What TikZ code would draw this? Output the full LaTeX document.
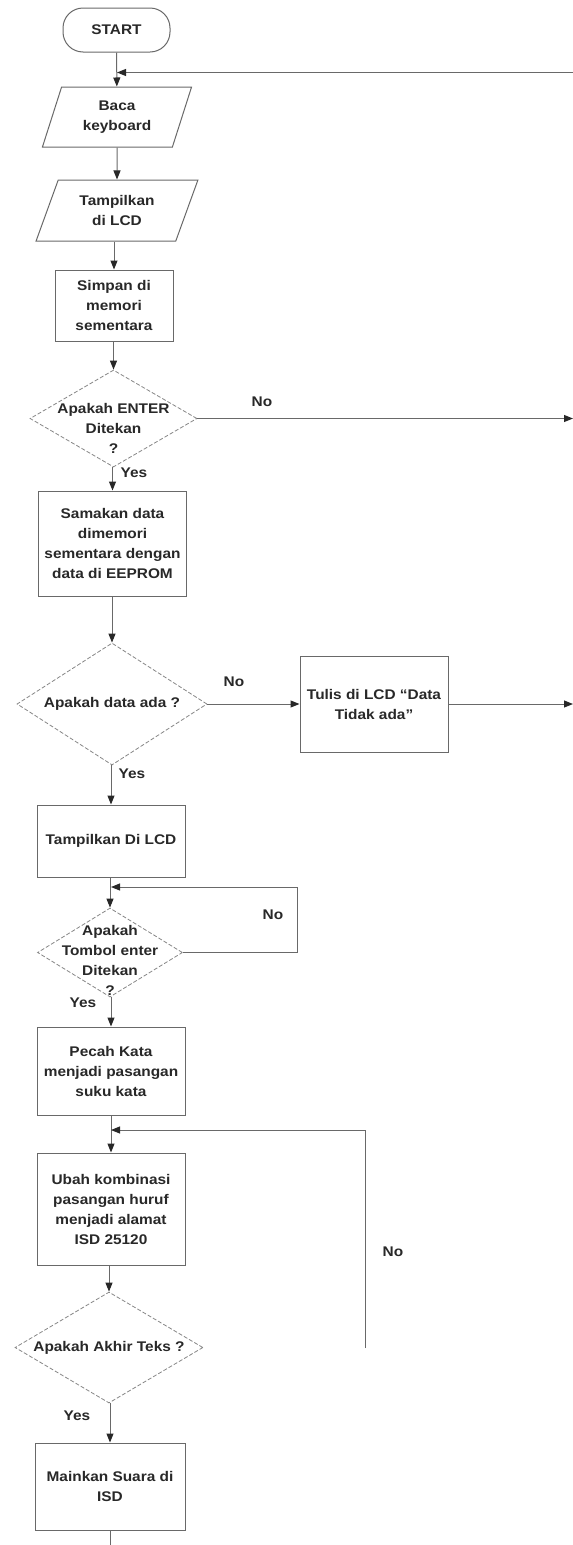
\documentclass[tikz,border=0pt]{standalone}
\usepackage{fontspec}
\setmainfont{Liberation Sans}[FakeStretch=1.1]
\usepackage{tikz}
\usetikzlibrary{shapes.geometric, arrows.meta, positioning, calc}
\definecolor{scangray}{RGB}{105,105,105}
\definecolor{inkgray}{RGB}{40,40,40}
\newcommand{\lbl}{\fontsize{14}{20}\selectfont\bfseries}

\tikzset{
  base/.style={font=\lbl, text=inkgray, align=center, inner sep=0pt},
  terminal/.style={base, draw=scangray, line width=1pt, rectangle, rounded corners=20pt},
  io/.style={base, draw=scangray, line width=1pt, trapezium, trapezium stretches=true,
    trapezium left angle=70, trapezium right angle=110},
  process/.style={base, draw=scangray, line width=1pt, rectangle},
  decision/.style={draw=scangray!80, line width=0.8pt, dash pattern=on 4pt off 2pt, diamond, inner sep=0pt},
  tag/.style={base},
  arr/.style={draw=scangray, line width=1pt, -{Triangle[length=9pt,width=7pt,color=inkgray]}},
  line/.style={draw=scangray, line width=1pt}
}

\begin{document}
\begin{tikzpicture}[x=1pt, y=-1pt]
    \fill[white] (0,0) rectangle (573,1545);
    \useasboundingbox (0,0) rectangle (573,1545);

    % Main column
    \node[terminal, minimum width=107pt, minimum height=44pt] (start) at (116.5,30) {START};
    \node[io, minimum width=150pt, minimum height=60pt] (read) at (117,117) {Baca\\keyboard};
    \node[io, trapezium left angle=65, trapezium right angle=115,
          minimum width=162pt, minimum height=61pt] (show) at (117,210.5) {Tampilkan\\di LCD};
    \node[process, minimum width=118pt, minimum height=71pt] (save) at (114,305.5) {Simpan di\\memori\\sementara};
    \node[decision, minimum width=167pt, minimum height=97pt] (ask) at (113.5,418.5) {};
    \node[tag] (asktxt) at (113.5,428) {Apakah ENTER\\Ditekan\\?};
    \node[process, minimum width=148pt, minimum height=105pt] (cmp) at (112.5,543.5) {Samakan data\\dimemori\\sementara dengan\\data di EEPROM};
    \node[decision, minimum width=190pt, minimum height=122pt] (found) at (112,704) {};
    \node[tag] (foundtxt) at (112,704) {Apakah data ada ?};
    \node[process, minimum width=148pt, minimum height=96pt] (msg) at (374,704) {Tulis di LCD “Data\\Tidak ada”};
    \node[process, minimum width=148pt, minimum height=72pt] (disp) at (111,841) {Tampilkan Di LCD};
    \node[decision, minimum width=145pt, minimum height=89pt] (enter) at (110,952.5) {};
    \node[tag] (entertxt) at (110,960) {Apakah\\Tombol enter\\Ditekan\\?};
    \node[process, minimum width=148pt, minimum height=88pt] (split) at (111,1071) {Pecah Kata\\menjadi pasangan\\suku kata};
    \node[process, minimum width=148pt, minimum height=112pt] (conv) at (111,1209) {Ubah kombinasi\\pasangan huruf\\menjadi alamat\\ISD 25120};
    \node[decision, minimum width=188pt, minimum height=111pt] (last) at (109,1347.5) {};
    \node[tag] (lasttxt) at (109,1347.5) {Apakah Akhir Teks ?};
    \node[process, minimum width=150pt, minimum height=87pt] (play) at (110,1486.5) {Mainkan Suara di\\ISD};

    % Free ends at the page edge
    \coordinate (backin) at (573,72.5);
    \coordinate (noout1) at (573,418.5);
    \coordinate (noout2) at (573,704);
    \coordinate (loop1) at (297,887);
    \coordinate (loop2top) at (365,1130);
    \coordinate (loop2end) at (365,1348);
    \coordinate (bottomout) at (110,1545);

    % Connectors
    \draw[arr] (start) -- (read);
    \draw[arr] (backin) -- (backin -| read);
    \draw[arr] (read) -- (show);
    \draw[arr] (show.south -| save) -- (save);
    \draw[arr] (save.south -| ask) -- (ask);
    \draw[arr] (ask) -- (ask.east -| noout1);
    \draw[arr] (ask.south -| cmp) -- (cmp);
    \draw[arr] (cmp.south -| found) -- (found);
    \draw[arr] (found) -- (msg);
    \draw[arr] (msg) -- (msg.east -| noout2);
    \draw[arr] (found.south -| disp) -- (disp);
    \draw[arr] (disp.south -| enter) -- (enter);
    \draw[arr] (enter.east) -| (loop1) -- (loop1 -| disp);
    \draw[arr] (enter.south -| split) -- (split);
    \draw[arr] (split) -- (conv);
    \draw[arr] (loop2end) -- (loop2top) -- (loop2top -| conv);
    \draw[arr] (conv.south -| last) -- (last);
    \draw[arr] (last.south -| play) -- (play);
    \draw[line] (play) -- (bottomout);

    % Branch labels
    \node[tag] (no1) at (262,402) {No};
    \node[tag] (yes1) at (134,473) {Yes};
    \node[tag] (no2) at (234,682) {No};
    \node[tag] (yes2) at (132,774) {Yes};
    \node[tag] (no3) at (273,915) {No};
    \node[tag] (yes3) at (83,1003) {Yes};
    \node[tag] (no4) at (393,1252) {No};
    \node[tag] (yes4) at (77,1416) {Yes};
\end{tikzpicture}
\end{document}
